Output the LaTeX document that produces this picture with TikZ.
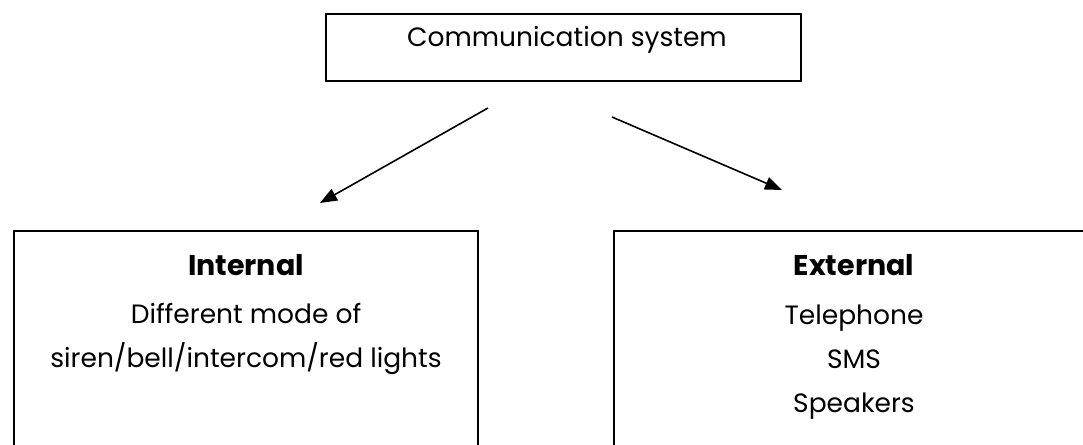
\documentclass[tikz,border=0pt]{standalone}
\usepackage{fontspec}
\setmainfont{Poppins}
\usetikzlibrary{arrows.meta,positioning,calc}

\begin{document}
\begin{tikzpicture}[x=1pt, y=-1pt,
    box/.style={rectangle, draw, line width=2pt, inner sep=0pt},
    txt/.style={align=center, inner sep=0pt, font=\fontsize{26.5}{44}\selectfont},
    head/.style={inner sep=0pt, font=\fontsize{28.5}{34}\selectfont\bfseries},
    arr/.style={-{Triangle[length=17pt,width=13pt]}, line width=1.6pt}
  ]
  \useasboundingbox (0,0) rectangle (1083,444);
  \clip (0,0) rectangle (1083,444);

  % top box
  \node[box, minimum width=475, minimum height=67, anchor=south west] (comm) at (325,82) {};
  \node[txt, anchor=base west] (commtxt) at (407,47) {Communication system};

  % the two branches (they run off the page)
  \node[box, minimum width=464, minimum height=260, anchor=north west] (intl) at (13,230) {};
  \node[box, minimum width=480, minimum height=260, anchor=north west] (extl) at (613,230) {};

  % base of a multi-line node = its last line
  \node[head, anchor=base] (inthead) at ($(intl.north)+(0,45)$) {Internal};
  \node[txt, anchor=base] (inttxt) at ($(intl.north)+(0,137)$)
    {Different mode of\\siren/bell/intercom/red lights};
  \node[head, anchor=base] (exthead) at ($(extl.north)+(0,45)$) {External};
  \node[txt, anchor=base] (exttxt) at ($(extl.north)+(0,182)$)
    {Telephone\\SMS\\Speakers};

  % arrows
  \coordinate (lstart) at (488,108);
  \coordinate (lend) at (320,203);
  \coordinate (rstart) at (612,117);
  \coordinate (rend) at (782,190);
  \draw[arr] (lstart) -- (lend);
  \draw[arr] (rstart) -- (rend);
\end{tikzpicture}
\end{document}
